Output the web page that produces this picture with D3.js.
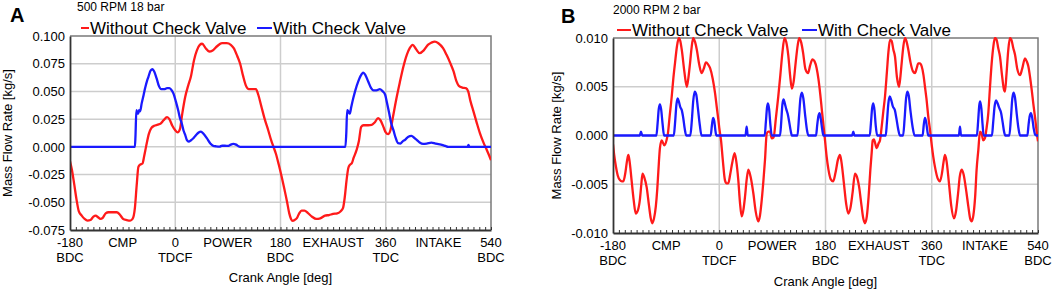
<!DOCTYPE html>
<html>
<head>
<meta charset="utf-8">
<script src="https://cdn.jsdelivr.net/npm/d3@7"></script>
<style>
  body { margin: 0; background: #fff; }
  svg { display: block; font-family: "Liberation Sans", Arial, sans-serif; }
  .tick text { fill: #000; }
</style>
</head>
<body>
<svg id="chart" width="1052" height="292"></svg>
<script>
// crank angle ticks, shared by both panels
const xTicks = [-180, -90, 0, 90, 180, 270, 360, 450, 540]
const xTopLabels = ["-180", "CMP", "0", "POWER", "180", "EXHAUST", "360", "INTAKE", "540"]
const xBottomLabels = ["BDC", "", "TDCF", "", "BDC", "", "TDC", "", "BDC"]
const xGrid = [0, 180, 360]

const yTicksA = [-0.075, -0.05, -0.025, 0, 0.025, 0.05, 0.075, 0.1]
const yTicksB = [-0.01, -0.005, 0, 0.005, 0.01]

// panel A, 500 RPM 18 bar : [crank angle, kg/s]
const redA = [[-180,-0.013],[-177,-0.020],[-173,-0.033],[-169,-0.047],[-165,-0.058],[-160,-0.062],[-155,-0.065],[-150,-0.0665],
  [-145,-0.066],[-140,-0.063],[-136,-0.062],[-132,-0.0635],[-128,-0.065],[-124,-0.064],[-119,-0.060],[-114,-0.059],[-105,-0.059],
  [-100,-0.059],[-95,-0.061],[-89,-0.065],[-83,-0.066],[-77,-0.0665],[-73,-0.065],[-69,-0.055],[-66,-0.035],[-63,-0.018],[-60,-0.016],
  [-56,-0.015],[-53,-0.008],[-50,0.000],[-45,0.012],[-41,0.017],[-36,0.019],[-30,0.020],[-25,0.021],[-20,0.024],[-14,0.0268],
  [-10,0.025],[-5,0.019],[0,0.015],[4,0.013],[8,0.016],[12,0.030],[17,0.045],[22,0.055],[27,0.064],[32,0.078],[37,0.087],[42,0.092],
  [46,0.093],[52,0.089],[58,0.086],[64,0.087],[72,0.091],[80,0.0935],[88,0.0935],[95,0.092],[100,0.089],[106,0.082],[111,0.075],
  [116,0.064],[121,0.055],[126,0.052],[133,0.052],[138,0.052],[142,0.047],[147,0.037],[153,0.025],[159,0.015],[164,0.006],[168,0.000],
  [172,-0.006],[177,-0.016],[182,-0.027],[187,-0.039],[191,-0.049],[195,-0.060],[198,-0.065],[201,-0.0667],[204,-0.066],[208,-0.0643],
  [212,-0.060],[216,-0.0575],[221,-0.0575],[227,-0.0598],[234,-0.063],[241,-0.065],[248,-0.0645],[256,-0.062],[263,-0.0615],
  [270,-0.0605],[277,-0.060],[283,-0.058],[287,-0.055],[290,-0.045],[293,-0.030],[296,-0.019],[299,-0.016],[302,-0.0147],[305,-0.010],
  [310,-0.003],[314,0.005],[318,0.018],[322,0.0195],[330,0.0195],[336,0.0198],[341,0.022],[347,0.026],[351,0.024],[356,0.018],
  [360,0.013],[364,0.0114],[368,0.015],[372,0.026],[378,0.043],[384,0.058],[390,0.072],[396,0.083],[401,0.089],[406,0.092],[412,0.088],
  [418,0.0845],[425,0.087],[432,0.092],[438,0.094],[444,0.095],[450,0.0935],[458,0.089],[464,0.083],[470,0.076],[476,0.068],
  [481,0.059],[485,0.055],[491,0.0535],[497,0.053],[501,0.050],[505,0.041],[510,0.032],[516,0.021],[521,0.0124],[527,0.004],
  [533,-0.003],[537,-0.008],[540,-0.012]]

const blueA = [[-180,0],[-69,0],[-68,0.010],[-66.5,0.033],[-65,0.031],[-63.5,0.030],[-62,0.033],[-60,0.032],[-57.5,0.039],
  [-54,0.047],[-51.5,0.053],[-48,0.060],[-46,0.063],[-42,0.069],[-39,0.070],[-36,0.068],[-32,0.062],[-28,0.055],[-24,0.052],
  [-19,0.052],[-14,0.053],[-10,0.053],[-6,0.051],[-3,0.048],[1,0.041],[5,0.033],[8,0.026],[11,0.0214],[14,0.015],[17,0.0108],
  [20,0.006],[23,0.0048],[27,0.006],[31,0.0078],[36,0.011],[40,0.013],[44,0.0138],[48,0.012],[54,0.0078],[60,0.003],[65,0.0009],
  [70,0.0005],[76,0.0003],[80,0.001],[85,0.001],[90,0.0008],[95,0.002],[99,0.0027],[104,0.002],[108,0.0005],[111,0],[291,0],
  [292.5,0.012],[294,0.033],[296,0.032],[298.5,0.030],[301,0.036],[304.5,0.044],[308,0.051],[313,0.059],[317,0.064],[321.5,0.067],
  [325,0.065],[330,0.059],[335,0.053],[339,0.051],[344,0.051],[350,0.052],[355,0.050],[359,0.047],[362,0.040],[366,0.030],
  [369,0.022],[373,0.0153],[377,0.008],[381,0.0033],[385,0.003],[389,0.005],[393,0.0063],[398,0.009],[404,0.0099],[409,0.008],
  [413,0.0063],[418,0.004],[424,0.0027],[430,0.003],[438,0.0039],[445,0.003],[450,0.0024],[456,0.0018],[462,0.0008],[467,0],
  [500,0],[501.5,0.0018],[503,0],[540,0]]

// panel B, 2000 RPM 2 bar
const redB = [[-180,-0.0009],[-178,-0.002],[-175,-0.0032],[-172,-0.0041],[-168,-0.0046],[-165,-0.0047],[-162.5,-0.0047],
  [-159,-0.0038],[-156,-0.0025],[-154,-0.002],[-152,-0.0026],[-148.5,-0.0046],[-145,-0.0066],[-141.5,-0.008],[-138,-0.0077],
  [-134.5,-0.0066],[-132,-0.005],[-130,-0.0039],[-127,-0.0043],[-123,-0.0053],[-119,-0.0072],[-116,-0.0085],[-113.5,-0.009],
  [-110.5,-0.0085],[-107.5,-0.0073],[-105,-0.0055],[-103,-0.0035],[-100.5,-0.0013],[-97.5,-0.0005],[-93,-0.001],[-89,-0.0004],
  [-87,0.0002],[-84,0.002],[-80.5,0.004],[-78,0.0057],[-75,0.0074],[-71.5,0.0092],[-68.5,0.0100],[-66,0.0097],[-63.5,0.0088],
  [-59,0.0065],[-55,0.005],[-52.5,0.0058],[-49.5,0.0074],[-46.5,0.0092],[-44,0.0100],[-41,0.0096],[-38,0.0088],[-34,0.0073],
  [-30,0.0064],[-26,0.0069],[-22.5,0.0075],[-19,0.0073],[-15.5,0.0069],[-11,0.0058],[-7,0.0043],[-4,0.0028],[-1.5,0.0016],
  [0,0.0008],[3,-0.0005],[6,-0.0025],[9.7,-0.0046],[12.5,-0.0049],[15.3,-0.0049],[18.5,-0.004],[22,-0.0028],[26,-0.0018],
  [28.5,-0.0025],[32.3,-0.0046],[35,-0.0068],[38,-0.0083],[41,-0.0076],[43.6,-0.0063],[46.5,-0.0045],[49.3,-0.0035],[53,-0.0042],
  [57.7,-0.0059],[61.5,-0.0077],[66,-0.0088],[69,-0.0082],[72,-0.0066],[75,-0.0045],[77.5,-0.0025],[80.4,0.0002],[83,0.0004],
  [86,0.0004],[89,-0.0003],[92,-0.0002],[96,0.0018],[100,0.004],[103.5,0.0062],[107,0.0085],[110.5,0.010],[113.5,0.0096],
  [117,0.0082],[120,0.0062],[123,0.0048],[126,0.0055],[129.5,0.0075],[133,0.0093],[135.6,0.0100],[139,0.0095],[142,0.0085],
  [146,0.0068],[150.5,0.0064],[154,0.0072],[158,0.0078],[161.5,0.0076],[165,0.0069],[168,0.0058],[171,0.0043],[174,0.0025],
  [177,0.0008],[180,-0.001],[182,-0.0022],[185,-0.0035],[189,-0.0045],[193,-0.0047],[197,-0.0038],[201,-0.0025],[204.5,-0.002],
  [207,-0.0027],[211,-0.0048],[215,-0.007],[218.6,-0.008],[222,-0.0075],[226,-0.0058],[229.9,-0.0039],[233,-0.0042],[237,-0.0053],
  [241,-0.0072],[244,-0.0085],[246.9,-0.009],[250,-0.0083],[253,-0.0063],[256,-0.0035],[258.2,-0.0018],[260,-0.0005],[262,-0.0004],
  [266.7,-0.0013],[270,-0.0008],[272.3,-0.0005],[275,0.0008],[278,0.0025],[280.8,0.004],[284,0.0065],[286.5,0.0085],[289.3,0.0098],
  [292,0.0097],[295,0.0088],[297.7,0.0081],[301,0.006],[304.5,0.005],[307,0.0061],[309,0.0074],[312,0.0092],[314.7,0.0100],
  [317,0.0097],[320.3,0.0088],[324,0.0075],[328,0.0066],[331.6,0.0064],[334.5,0.0069],[337.2,0.0074],[340,0.0074],[342.9,0.0071],
  [346,0.0062],[348.5,0.005],[351,0.0038],[354,0.002],[357,0.0006],[360,-0.001],[362.6,-0.0022],[366,-0.0034],[370,-0.0044],
  [373.9,-0.0047],[377.5,-0.0038],[380,-0.0027],[382.4,-0.002],[385,-0.0026],[389,-0.0048],[393,-0.0072],[397.7,-0.0085],
  [401,-0.0078],[404.5,-0.006],[407.5,-0.0042],[410.7,-0.0035],[414,-0.004],[418,-0.0055],[422,-0.0073],[425,-0.0085],
  [427.7,-0.0088],[430.5,-0.0082],[433.5,-0.0063],[436,-0.0035],[438.9,-0.0015],[441.7,0.0004],[444.5,0.0002],[447.3,-0.0005],
  [450,-0.0003],[452.5,0.0006],[455.8,0.0023],[458.5,0.0048],[461.5,0.0074],[464.5,0.0092],[467,0.0100],[470,0.0098],[472.5,0.009],
  [475.6,0.0081],[479,0.0062],[482,0.0048],[484.1,0.0045],[486.5,0.0062],[489.7,0.0088],[492.5,0.0100],[495,0.0098],[498,0.009],
  [501,0.0083],[505,0.0068],[509.5,0.0062],[513,0.0068],[518,0.0079],[521,0.0076],[523.6,0.0071],[526.5,0.006],[529.3,0.0047],
  [532,0.0033],[534.9,0.0019],[538.8,-0.0001],[540,-0.0006]]

const blueB = [[-180,0],[-134.5,0],[-132.6,0.0004],[-130.5,0],[-106.5,0],[-104.5,0.0012],[-102.5,0.0027],[-100.5,0.0032],
  [-98.5,0.0027],[-96,0.0012],[-93.5,0],[-77,0],[-75,0.0012],[-72.5,0.0032],[-70.5,0.0038],[-68.5,0.0035],[-66,0.0029],
  [-63.5,0.0026],[-61,0.0018],[-58.5,0.0007],[-56,0],[-49,0],[-46.5,0.0015],[-44,0.0036],[-41.5,0.0045],[-39,0.0042],[-36,0.0027],
  [-33,0.0011],[-30,0],[-14.5,0],[-12.5,0.001],[-10.5,0.0018],[-8.5,0.0015],[-6.5,0.0005],[-5,0],[44.5,0],[46.4,0.0009],[48.3,0],
  [77,0],[79,0.0014],[81,0.0029],[82.5,0.0033],[84.5,0.0027],[86.5,0.0012],[89,0],[103,0],[105,0.0014],[107,0.0032],[109,0.0037],
  [111,0.0033],[113.5,0.0027],[116,0.0022],[118.5,0.0014],[121,0.0005],[123,0],[132.5,0],[135,0.0018],[137.5,0.0038],[140,0.0044],
  [142.5,0.0038],[145.5,0.0021],[148.5,0.0006],[151,0],[164,0],[166,0.0011],[168,0.002],[170,0.0023],[172,0.0017],[174.5,0.0006],
  [176.5,0],[225.2,0],[227.1,0.0004],[229,0],[255,0],[257,0.0013],[259,0.0028],[261,0.0033],[263,0.0026],[265,0.0011],[267.5,0],
  [282,0],[284,0.0013],[286.5,0.0033],[289,0.004],[291.5,0.0036],[294,0.003],[297.5,0.0026],[300,0.0018],[303,0.0007],[306,0],
  [311.5,0],[314,0.0017],[316.5,0.0038],[318.6,0.0045],[321,0.0041],[324,0.0025],[327.5,0.0009],[331,0],[344.5,0],[346.5,0.0011],
  [348.5,0.0018],[350.5,0.0014],[352.5,0.0005],[354,0],[406,0],[407.8,0.0009],[409.6,0],[436.5,0],[438.5,0.0014],[440.5,0.0031],
  [442,0.0035],[444,0.0028],[446,0.0012],[448,0],[462,0],[464,0.0013],[466.5,0.003],[469,0.0036],[471.5,0.0033],[474.5,0.0028],
  [477.5,0.0023],[480,0.0014],[482.5,0.0004],[484.5,0],[491.5,0],[494,0.0017],[496.5,0.0038],[498.5,0.0044],[501,0.0039],
  [504,0.0022],[507,0.0007],[509.5,0],[522,0],[524,0.0011],[526,0.002],[528,0.0023],[530,0.0019],[532.5,0.0008],[535,0.0001],
  [537.5,0],[540,0]]

const seriesNames = ["Without Check Valve", "With Check Valve"]
const seriesColors = ["#ff1a1a", "#1a1aff"]

function draw_panel(svg, p)
{
    const g = svg.append("g")
    const x = d3.scaleLinear().domain([-180, 540]).range([p.left, p.right])
    const y = d3.scaleLinear().domain(p.yDomain).range([p.bottom, p.top])

    // grid
    g.selectAll(".hgrid").data(p.yTicks.filter(d => d !== p.yDomain[0] && d !== p.yDomain[1]))
        .join("line")
        .attr("x1", p.left).attr("x2", p.right)
        .attr("y1", d => y(d)).attr("y2", d => y(d))
        .attr("stroke", "#cdcdcd").attr("stroke-width", 1.5)
    g.selectAll(".vgrid").data(xGrid)
        .join("line")
        .attr("x1", d => x(d)).attr("x2", d => x(d))
        .attr("y1", p.top).attr("y2", p.bottom)
        .attr("stroke", "#cdcdcd").attr("stroke-width", 1.5)

    // frame (top and right)
    g.append("path")
        .attr("d", `M${p.left},${p.top}H${p.right}V${p.bottom}`)
        .attr("fill", "none").attr("stroke", "#7a7a7a").attr("stroke-width", 1.5)

    // curves
    const clipId = "clip" + p.name
    svg.append("clipPath").attr("id", clipId)
        .append("rect").attr("x", p.left).attr("y", p.top - 1)
        .attr("width", p.right - p.left).attr("height", p.bottom - p.top + 2)
    const line = d3.line().x(d => x(d[0])).y(d => y(d[1])).curve(d3.curveMonotoneX)
    p.series.forEach((s, i) => {
        g.append("path")
            .attr("clip-path", `url(#${clipId})`)
            .attr("d", line(s))
            .attr("fill", "none")
            .attr("stroke", seriesColors[i])
            .attr("stroke-width", 2.3)
            .attr("stroke-linejoin", "round")
    })

    // y axis
    const yAxis = d3.axisLeft(y).tickValues(p.yTicks).tickSize(0).tickPadding(5)
        .tickFormat(d => d.toFixed(3))
    g.append("g").attr("transform", `translate(${p.left},0)`).call(yAxis)
        .call(a => a.select(".domain").attr("stroke", "#333").attr("stroke-width", 1.8))
        .selectAll("text").attr("font-size", 13).attr("font-family", "Liberation Sans, Arial, sans-serif")

    // x axis with small inward ticks every 10 deg
    const xAxis = d3.axisBottom(x).tickValues(d3.range(-180, 541, 10)).tickSize(-3).tickSizeOuter(0).tickFormat("")
    g.append("g").attr("transform", `translate(0,${p.bottom})`).call(xAxis)
        .call(a => a.select(".domain").attr("stroke", "#333").attr("stroke-width", 1.8))
        .call(a => a.selectAll(".tick line").attr("stroke", "#333"))

    g.selectAll(".xlab1").data(xTicks).join("text")
        .attr("x", d => x(d)).attr("y", p.bottom + p.lab1)
        .attr("text-anchor", "middle").attr("font-size", 13)
        .text((d, i) => xTopLabels[i])
    g.selectAll(".xlab2").data(xTicks).join("text")
        .attr("x", d => x(d)).attr("y", p.bottom + p.lab2)
        .attr("text-anchor", "middle").attr("font-size", 13)
        .text((d, i) => xBottomLabels[i])

    // axis titles
    g.append("text")
        .attr("x", (p.left + p.right) / 2).attr("y", p.bottom + p.xTitle)
        .attr("text-anchor", "middle").attr("font-size", 13)
        .text("Crank Angle [deg]")
    g.append("text")
        .attr("transform", `translate(${p.yTitleX},${(p.top + p.bottom) / 2}) rotate(-90)`)
        .attr("text-anchor", "middle").attr("font-size", 13)
        .text("Mass Flow Rate [kg/s]")

    // panel letter + condition
    g.append("text").attr("x", p.letterX).attr("y", p.letterY)
        .attr("font-size", 20).attr("font-weight", "bold").text(p.name)
    g.append("text").attr("x", p.subX).attr("y", p.subY)
        .attr("font-size", 12).text(p.sub)

    // legend
    p.legend.forEach((l, i) => {
        g.append("line")
            .attr("x1", l[0]).attr("x2", l[1]).attr("y1", p.legY - 6).attr("y2", p.legY - 6)
            .attr("stroke", seriesColors[i]).attr("stroke-width", 2)
        g.append("text").attr("x", l[1] + 1).attr("y", p.legY)
            .attr("font-size", 17).text(seriesNames[i])
    })
}

const svg = d3.select("#chart")

draw_panel(svg, {
    name: "A", sub: "500 RPM 18 bar",
    left: 70, right: 491, top: 36, bottom: 230,
    yDomain: [-0.075, 0.1], yTicks: yTicksA,
    series: [redA, blueA],
    lab1: 17, lab2: 32, xTitle: 52, yTitleX: 12,
    letterX: 10, letterY: 22, subX: 77, subY: 11,
    legY: 34, legend: [[81, 89], [257, 272]]
})

draw_panel(svg, {
    name: "B", sub: "2000 RPM 2 bar",
    left: 613, right: 1038, top: 38, bottom: 233,
    yDomain: [-0.01, 0.01], yTicks: yTicksB,
    series: [redB, blueB],
    lab1: 17, lab2: 32, xTitle: 53, yTitleX: 561,
    letterX: 561, letterY: 23, subX: 613, subY: 14,
    legY: 36, legend: [[617, 631], [802, 817]]
})
</script>
</body>
</html>
